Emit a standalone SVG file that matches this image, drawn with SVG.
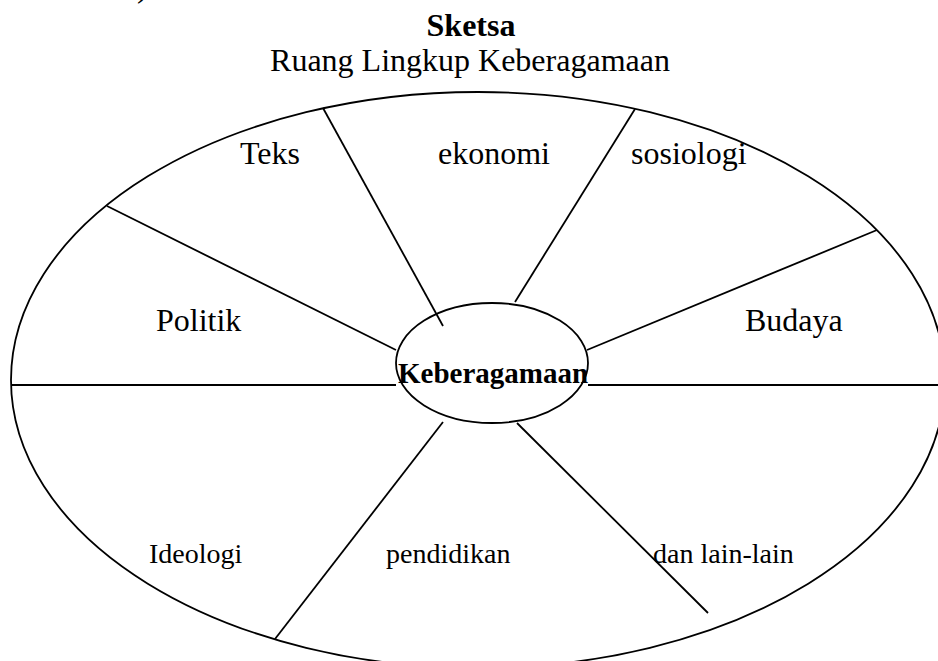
<svg xmlns="http://www.w3.org/2000/svg" width="938" height="661" viewBox="0 0 938 661">
<style>
.ln{stroke:#000;stroke-width:1.8;fill:none}
.t{font-family:"Liberation Serif","Times New Roman",serif;fill:#000}
.lg{font-size:32px}
.sm{font-size:28px}
.b{font-weight:bold}
</style>
<rect width="938" height="661" fill="#fff"/>
<text class="t lg" x="137" y="-3">)</text>
<g id="title">
<text class="t lg b" x="471" y="36" text-anchor="middle">Sketsa</text>
<text class="t lg" x="470" y="71" text-anchor="middle">Ruang Lingkup Keberagamaan</text>
</g>
<g id="outer"><ellipse class="ln" cx="478" cy="380" rx="467" ry="288"/></g>
<g id="connectors">
<line class="ln" x1="323" y1="108" x2="443" y2="326"/>
<line class="ln" x1="635" y1="109" x2="515" y2="302"/>
<line class="ln" x1="107" y1="206" x2="396" y2="350"/>
<line class="ln" x1="877" y1="230" x2="587" y2="350"/>
<line class="ln" x1="11" y1="385" x2="396" y2="385"/>
<line class="ln" x1="588" y1="385" x2="938" y2="385"/>
<line class="ln" x1="443" y1="422" x2="275" y2="639"/>
<line class="ln" x1="517" y1="423" x2="708" y2="613"/>
</g>
<g id="center">
<ellipse class="ln" cx="492" cy="363" rx="96" ry="60"/>
<text class="t b" style="font-size:29px" x="398" y="383">Keberagamaan</text>
</g>
<g id="teks"><text class="t lg" x="240" y="164">Teks</text></g>
<g id="ekonomi"><text class="t lg" x="438" y="164">ekonomi</text></g>
<g id="sosiologi"><text class="t lg" x="631" y="164">sosiologi</text></g>
<g id="politik"><text class="t lg" x="156" y="331">Politik</text></g>
<g id="budaya"><text class="t lg" x="745" y="331">Budaya</text></g>
<g id="ideologi"><text class="t sm" x="149" y="563">Ideologi</text></g>
<g id="pendidikan"><text class="t sm" x="386" y="563">pendidikan</text></g>
<g id="lain"><text class="t sm" x="653" y="563">dan lain-lain</text></g>
</svg>
